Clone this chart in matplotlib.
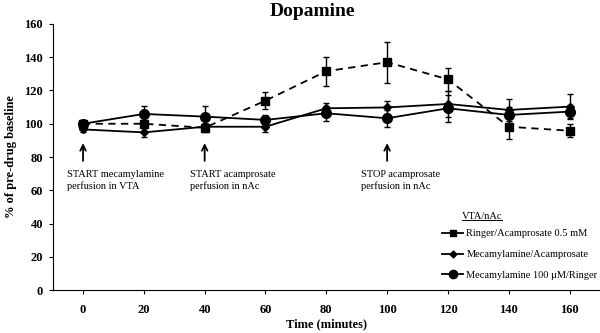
import matplotlib
matplotlib.use('Agg')
from matplotlib import pyplot as plt
from matplotlib.lines import Line2D

plt.rcParams['font.family'] = ['Liberation Serif', 'DejaVu Serif']

# minutes after start
time = [0, 20, 40, 60, 80, 100, 120, 140, 160]

ringer_acamp = [100, 100, 97.6, 113.9, 131.6, 137, 126.7, 98.2, 95.8]
ringer_acamp_err = [1.5, 2, 2.5, 5, 8.7, 12.3, 7, 7.4, 4]

meca_acamp = [96.6, 94.8, 98.2, 98.2, 109.3, 109.8, 111.9, 108.3, 110.3]
meca_acamp_err = [1.5, 2.6, 2, 3, 3, 4, 8, 6.6, 7.6]

meca_ringer = [100, 105.9, 104.3, 102.3, 106.3, 103.3, 109.3, 105.3, 107.3]
meca_ringer_err = [1.5, 5, 6.6, 3, 4.5, 5, 8, 5, 4]

labels = ['Ringer/Acamprosate 0.5 mM', 'Mecamylamine/Acamprosate',
          'Mecamylamine 100 \u00b5M/Ringer']

events = [0, 40, 100]
event_text = ['START mecamylamine\nperfusion in VTA',
              'START acamprosate\nperfusion in nAc',
              'STOP acamprosate\nperfusion in nAc']
event_text_x = [-5.3, 35.2, 91.5]

fig = plt.figure(figsize=(6, 3.33), dpi=100)
ax = fig.add_axes([0.0877, 0.129, 0.9123, 0.799])

kw = dict(color='black', capsize=2, elinewidth=1, capthick=1, lw=1.3)
ax.errorbar(time, ringer_acamp, yerr=ringer_acamp_err, marker='s', ms=6,
            ls=(0, (4, 3)), **kw)
ax.errorbar(time, meca_acamp, yerr=meca_acamp_err, marker='D', ms=4, **kw)
ax.errorbar(time, meca_ringer, yerr=meca_ringer_err, marker='o', ms=7, **kw)

handles = [Line2D([], [], color='black', lw=1.3, marker='s', ms=5),
           Line2D([], [], color='black', lw=1.3, marker='D', ms=3.5),
           Line2D([], [], color='black', lw=1.3, marker='o', ms=6)]
ax.legend(handles, labels, loc='upper left', bbox_to_anchor=(0.712, 0.229),
          frameon=False, fontsize=7.5, handlelength=2.0, handletextpad=0.3,
          labelspacing=1.1, borderpad=0, borderaxespad=0)
ttl = ax.text(124.6, 44.5, 'VTA/nAc', fontsize=7.5, ha='left', va='center')

for x, tx, s in zip(events, event_text_x, event_text):
    ax.annotate('', xy=(x, 90), xytext=(x, 76),
                arrowprops=dict(arrowstyle='->', color='black', lw=1.3))
    ax.text(tx, 72, s, fontsize=7.5, ha='left', va='top', linespacing=1.25)

ax.set_xlim(-10, 170)
ax.set_ylim(0, 160)
ax.set_xticks(time)
ax.set_yticks(range(0, 161, 20))
ax.spines['top'].set_visible(False)
ax.spines['right'].set_visible(False)
ax.tick_params(axis='x', length=3, pad=7, labelsize=9)
ax.tick_params(axis='y', length=3, pad=4, labelsize=9)
for t in ax.get_xticklabels() + ax.get_yticklabels():
    t.set_fontweight('bold')
ax.set_xlabel('Time (minutes)', fontweight='bold', fontsize=9, labelpad=2)
ax.set_ylabel('% of pre-drug baseline', fontweight='bold', fontsize=9, labelpad=5)

fig.text(0.52, 0.966, 'Dopamine', ha='center', va='center',
         fontsize=14, fontweight='bold')

# underline the legend title
fig.canvas.draw()
bb = ttl.get_window_extent().transformed(fig.transFigure.inverted())
fig.add_artist(Line2D([bb.x0, bb.x1], [bb.y0 + 0.002, bb.y0 + 0.002],
                      color='black', lw=0.7, transform=fig.transFigure))

fig.savefig('out.png', dpi=100)
